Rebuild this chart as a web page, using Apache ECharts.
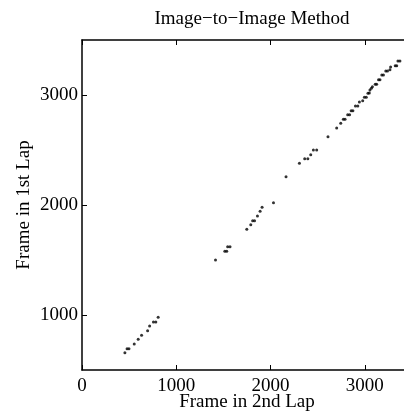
<!DOCTYPE html>
<html>
<head>
<meta charset="utf-8">
<script src="https://cdn.jsdelivr.net/npm/echarts@6/dist/echarts.min.js"></script>
<style>html,body{margin:0;padding:0;background:#fff;}#c{width:404px;height:414px;}</style>
</head>
<body>
<div id="c"></div>
<script>
const titleText = 'Image\u2212to\u2212Image Method';
const xName = 'Frame in 2nd Lap';
const yName = 'Frame in 1st Lap';
const xTicks = [0, 1000, 2000, 3000];
const yTicks = [1000, 2000, 3000];
const frame2nd = [
  455, 478, 498, 554, 596, 632, 696, 717, 758, 783, 808,
  1416, 1515, 1535, 1545, 1570, 1748, 1790, 1810, 1830, 1861, 1889, 1910, 2031,
  2164, 2306, 2362, 2395, 2426, 2454, 2489, 2609,
  2701, 2744, 2772, 2790, 2818, 2838, 2855, 2873, 2900, 2925, 2942, 2977, 2995, 3015,
  3033, 3047, 3054, 3069, 3080, 3110, 3125, 3145, 3160, 3180, 3197, 3222, 3240,
  3266, 3273, 3322, 3338, 3351, 3372
];
const frame1st = [
  657, 694, 694, 736, 779, 815, 857, 900, 936, 936, 979,
  1500, 1579, 1579, 1621, 1621, 1779, 1821, 1857, 1857, 1900, 1943, 1979, 2021,
  2257, 2379, 2421, 2421, 2457, 2500, 2500, 2621,
  2700, 2743, 2779, 2779, 2821, 2821, 2857, 2857, 2900, 2900, 2936, 2948, 2979, 2979,
  3015, 3018, 3045, 3061, 3075, 3097, 3097, 3139, 3139, 3182, 3182, 3218, 3218,
  3230, 3255, 3266, 3266, 3309, 3309
];

const font = 'Liberation Serif';
const pts = frame2nd.map((x, i) => [x, frame1st[i]]);
const axisLineStyle = {color: '#000', width: 1.5};
const chart = echarts.init(document.getElementById('c'));
chart.setOption({
  animation: false,
  backgroundColor: '#fff',
  title: {
    text: titleText, left: 247, top: 5, textAlign: 'center',
    textStyle: {fontFamily: font, fontSize: 19, fontWeight: 'normal', color: '#000'}
  },
  grid: {left: 82, top: 40, width: 330, height: 330, outerBoundsMode: 'none', containLabel: false},
  xAxis: [{
    type: 'value', min: 0, max: 3500, interval: 1000,
    name: xName, nameLocation: 'middle', nameGap: 23, nameMoveOverlap: false,
    nameTextStyle: {fontFamily: font, fontSize: 19, color: '#000', verticalAlign: 'top'},
    axisLine: {show: true, lineStyle: axisLineStyle},
    axisTick: {show: true, inside: true, length: 5, lineStyle: {color: '#000', width: 1}},
    axisLabel: {color: '#000', fontFamily: font, fontSize: 19, margin: 7,
      formatter: v => xTicks.includes(v) ? String(v) : ''},
    splitLine: {show: false}
  }, {
    type: 'value', min: 0, max: 3500, interval: 1000, position: 'top',
    axisLine: {show: true, lineStyle: axisLineStyle},
    axisTick: {show: true, inside: true, length: 5, lineStyle: {color: '#000', width: 1}},
    axisLabel: {show: false}, splitLine: {show: false}
  }],
  yAxis: [{
    type: 'value', min: 500, max: 3500, interval: 500,
    name: yName, nameLocation: 'middle', nameGap: 48, nameRotate: 90, nameMoveOverlap: false,
    nameTextStyle: {fontFamily: font, fontSize: 19, color: '#000'},
    axisLine: {show: true, lineStyle: axisLineStyle},
    axisTick: {show: true, inside: true, length: 5, lineStyle: {color: '#000', width: 1},
      customValues: yTicks},
    axisLabel: {color: '#000', fontFamily: font, fontSize: 19, margin: 4,
      customValues: yTicks, formatter: v => String(v)},
    splitLine: {show: false}
  }],
  series: [{
    type: 'scatter', data: pts, symbol: 'circle', symbolSize: 3,
    itemStyle: {color: '#000'}
  }]
});
</script>
</body>
</html>
